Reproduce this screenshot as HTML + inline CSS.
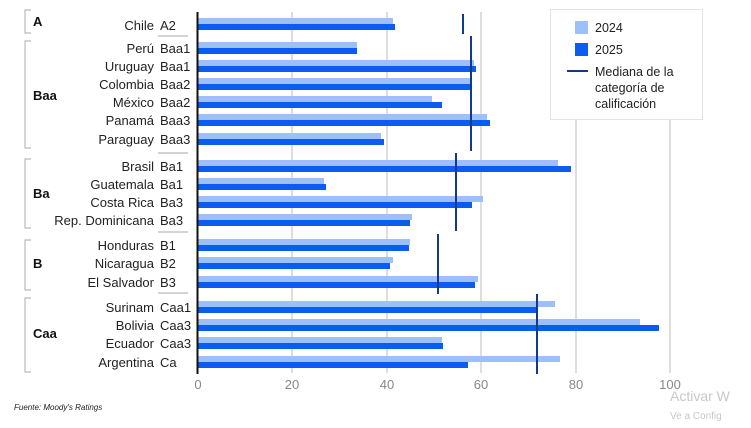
<!DOCTYPE html>
<html><head><meta charset="utf-8"><style>
body{margin:0;background:#fff;}
svg{display:block;font-family:"Liberation Sans",sans-serif;}
</style></head><body>
<svg width="751" height="428" viewBox="0 0 751 428" xmlns="http://www.w3.org/2000/svg">
<g stroke="#c8c8c8" stroke-width="1.2">
<line x1="292" y1="12" x2="292" y2="373"/><line x1="387" y1="12" x2="387" y2="373"/>
<line x1="481" y1="12" x2="481" y2="373"/><line x1="576" y1="12" x2="576" y2="373"/>
<line x1="670" y1="12" x2="670" y2="373"/>
</g>
<g fill="#9dc0fa">
<rect x="198" y="18" width="195" height="6"/>
<rect x="198" y="42" width="159" height="6"/>
<rect x="198" y="60" width="276" height="6"/>
<rect x="198" y="78" width="272" height="6"/>
<rect x="198" y="96" width="234" height="6"/>
<rect x="198" y="114" width="289" height="6"/>
<rect x="198" y="133" width="183" height="6"/>
<rect x="198" y="160" width="360" height="6"/>
<rect x="198" y="178" width="126" height="6"/>
<rect x="198" y="196" width="285" height="6"/>
<rect x="198" y="214" width="214" height="6"/>
<rect x="198" y="239" width="212" height="6"/>
<rect x="198" y="257" width="195" height="6"/>
<rect x="198" y="276" width="280" height="6"/>
<rect x="198" y="301" width="357" height="6"/>
<rect x="198" y="319" width="442" height="6"/>
<rect x="198" y="337" width="244" height="6"/>
<rect x="198" y="356" width="362" height="6"/>
</g>
<g fill="#0b5cf0">
<rect x="198" y="24" width="197" height="6"/>
<rect x="198" y="48" width="159" height="6"/>
<rect x="198" y="66" width="278" height="6"/>
<rect x="198" y="84" width="273" height="6"/>
<rect x="198" y="102" width="244" height="6"/>
<rect x="198" y="120" width="292" height="6"/>
<rect x="198" y="139" width="186" height="6"/>
<rect x="198" y="166" width="373" height="6"/>
<rect x="198" y="184" width="128" height="6"/>
<rect x="198" y="202" width="274" height="6"/>
<rect x="198" y="220" width="212" height="6"/>
<rect x="198" y="245" width="211" height="6"/>
<rect x="198" y="263" width="192" height="6"/>
<rect x="198" y="282" width="277" height="6"/>
<rect x="198" y="307" width="339" height="6"/>
<rect x="198" y="325" width="461" height="6"/>
<rect x="198" y="343" width="245" height="6"/>
<rect x="198" y="362" width="270" height="6"/>
</g>
<g stroke="#123a8a" stroke-width="2">
<line x1="463" y1="14" x2="463" y2="34"/>
<line x1="471" y1="36" x2="471" y2="151"/>
<line x1="456" y1="153" x2="456" y2="231"/>
<line x1="438" y1="234" x2="438" y2="294"/>
<line x1="537" y1="294" x2="537" y2="374"/>
</g>
<line x1="197.5" y1="12" x2="197.5" y2="374" stroke="#111" stroke-width="2"/>
<g font-size="13" fill="#222" text-anchor="end">
<text x="154" y="30">Chile</text><text x="154" y="53">Perú</text><text x="154" y="71">Uruguay</text>
<text x="154" y="89">Colombia</text><text x="154" y="107">México</text><text x="154" y="125">Panamá</text>
<text x="154" y="144">Paraguay</text><text x="154" y="171">Brasil</text><text x="154" y="189">Guatemala</text>
<text x="154" y="207">Costa Rica</text><text x="154" y="225">Rep. Dominicana</text><text x="154" y="250">Honduras</text>
<text x="154" y="268">Nicaragua</text><text x="154" y="287">El Salvador</text><text x="154" y="312">Surinam</text>
<text x="154" y="330">Bolivia</text><text x="154" y="348">Ecuador</text><text x="154" y="367">Argentina</text>
</g>
<g font-size="13" fill="#222">
<text x="160" y="30">A2</text><text x="160" y="53">Baa1</text><text x="160" y="71">Baa1</text>
<text x="160" y="89">Baa2</text><text x="160" y="107">Baa2</text><text x="160" y="125">Baa3</text>
<text x="160" y="144">Baa3</text><text x="160" y="171">Ba1</text><text x="160" y="189">Ba1</text>
<text x="160" y="207">Ba3</text><text x="160" y="225">Ba3</text><text x="160" y="250">B1</text>
<text x="160" y="268">B2</text><text x="160" y="287">B3</text><text x="160" y="312">Caa1</text>
<text x="160" y="330">Caa3</text><text x="160" y="348">Caa3</text><text x="160" y="367">Ca</text>
</g>
<g stroke="#bbb" stroke-width="1.2">
<line x1="158" y1="36" x2="188" y2="36"/><line x1="158" y1="153" x2="188" y2="153"/>
<line x1="158" y1="232" x2="188" y2="232"/><line x1="158" y1="293" x2="188" y2="293"/>
</g>
<g stroke="#bbb" stroke-width="1.2" fill="none">
<path d="M31 10 H25 V33 H31"/><path d="M31 41 H25 V148 H31"/>
<path d="M31 159 H25 V228 H31"/><path d="M31 240 H25 V290 H31"/>
<path d="M31 298 H25 V372 H31"/>
</g>
<g font-size="13" font-weight="bold" fill="#111">
<text x="33" y="26">A</text><text x="33" y="100">Baa</text><text x="33" y="198">Ba</text>
<text x="33" y="268">B</text><text x="33" y="338">Caa</text>
</g>
<g font-size="13" fill="#888" text-anchor="middle">
<text x="198" y="389">0</text><text x="292" y="389">20</text><text x="387" y="389">40</text>
<text x="481" y="389">60</text><text x="576" y="389">80</text><text x="670" y="389">100</text>
</g>
<rect x="550.5" y="9.5" width="152" height="110" fill="#fff" stroke="#e4e4e4"/>
<rect x="575" y="21" width="13" height="13" fill="#9dc0fa"/>
<rect x="575" y="43" width="13" height="13" fill="#0b5cf0"/>
<line x1="567" y1="71" x2="588" y2="71" stroke="#123a8a" stroke-width="2"/>
<g font-size="12.5" fill="#222">
<text x="595" y="32">2024</text><text x="595" y="54">2025</text>
<text x="595" y="76">Mediana de la</text><text x="595" y="92">categoría de</text><text x="595" y="108">calificación</text>
</g>
<text x="14" y="410" font-size="8" font-style="italic" fill="#222">Fuente: Moody's Ratings</text>
<text x="670" y="401" font-size="14" fill="#c8c8c8">Activar W</text>
<text x="670" y="419" font-size="10" fill="#c8c8c8">Ve a Config</text>
</svg>
</body></html>
